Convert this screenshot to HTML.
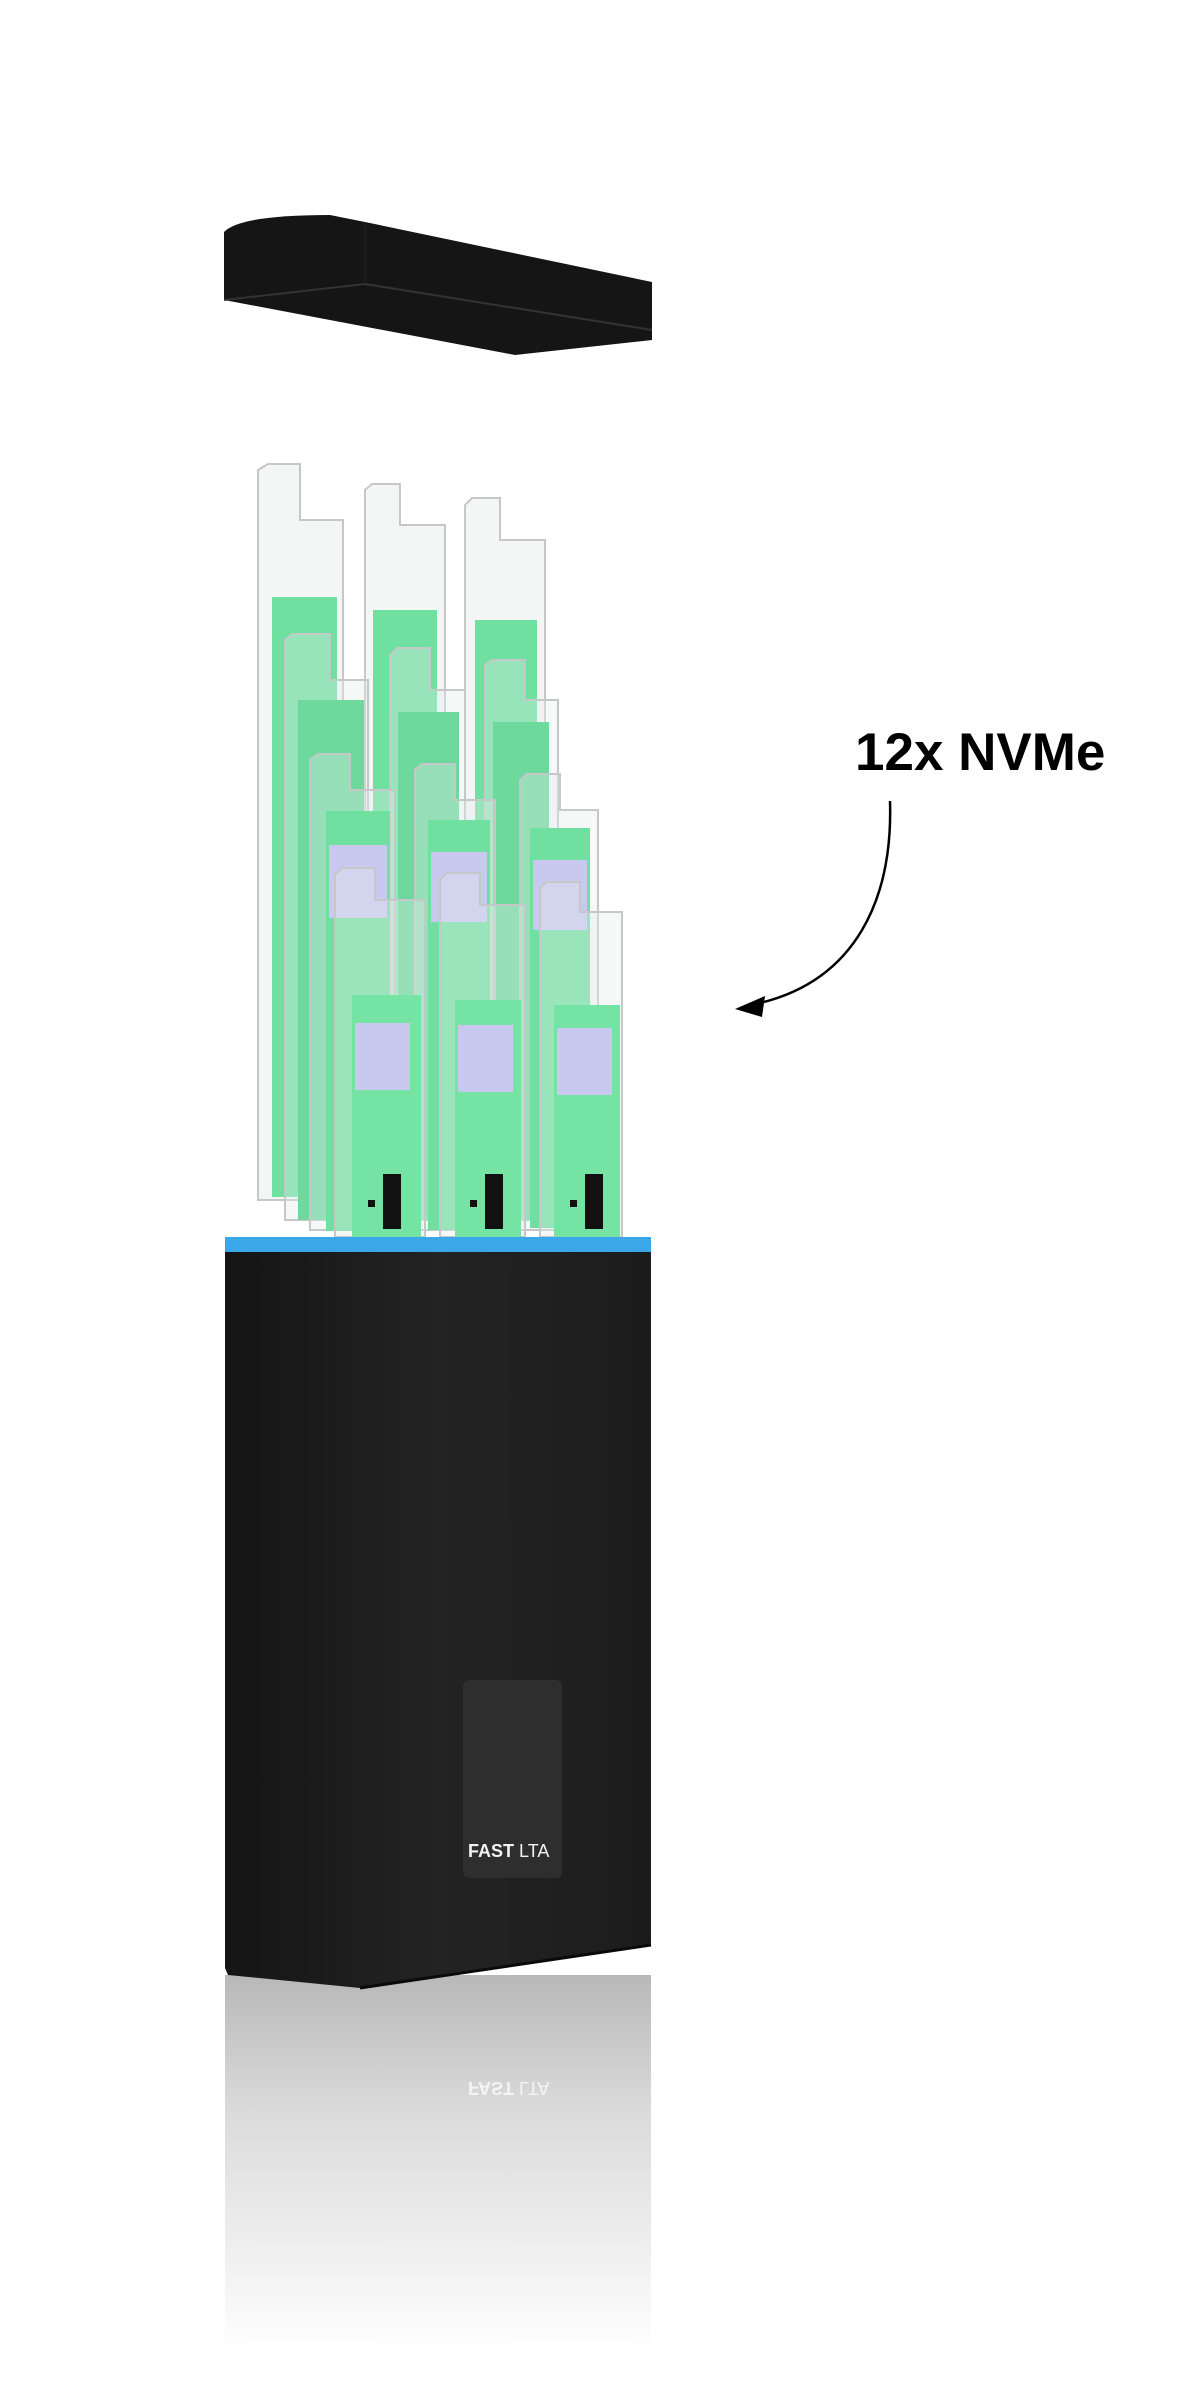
<!DOCTYPE html>
<html><head><meta charset="utf-8"><style>
html,body{margin:0;padding:0;background:#fff}
svg{display:block}
</style></head><body>
<svg width="1200" height="2401" viewBox="0 0 1200 2401" xmlns="http://www.w3.org/2000/svg">
<defs>
<linearGradient id="refl" x1="0" y1="0" x2="0" y2="1">
<stop offset="0" stop-color="#b8b8b8"/><stop offset="0.35" stop-color="#dadada"/><stop offset="1" stop-color="#ffffff"/>
</linearGradient>
<linearGradient id="boxg" x1="0" y1="0" x2="1" y2="0">
<stop offset="0" stop-color="#151515"/><stop offset="0.5" stop-color="#232323"/><stop offset="1" stop-color="#1c1c1c"/>
</linearGradient>
</defs>

<!-- lid -->
<path d="M224,232 Q240,215 330,215 L365,222 L652,282 L652,340 L515,355 L224,300 Z" fill="#151515"/>
<path d="M224,300 L365,284 L652,330" fill="none" stroke="#333" stroke-width="2"/>
<path d="M365,222 L365,284" stroke="#222" stroke-width="1"/>

<!-- drives -->
<g id="drives">
<g>
<path d="M258,530 L258,470 L268,464 L300,464 L300,520 L343,520 L343,1200 L258,1200 Z" fill="rgba(230,235,235,0.45)" stroke="#c4c8c8" stroke-width="2"/>
<rect x="272" y="597" width="65" height="600" fill="#6fe0a0"/>
<path d="M365,535 L365,490 L372,484 L400,484 L400,525 L445,525 L445,1200 L365,1200Z" fill="rgba(230,235,235,0.45)" stroke="#c4c8c8" stroke-width="2"/>
<rect x="373" y="610" width="64" height="590" fill="#6fe0a0"/>
<path d="M465,545 L465,505 L472,498 L500,498 L500,540 L545,540 L545,1200 L465,1200Z" fill="rgba(230,235,235,0.45)" stroke="#c4c8c8" stroke-width="2"/>
<rect x="475" y="620" width="62" height="580" fill="#6fe0a0"/>
</g>
<g>
<path d="M285,690 L285,640 L292,634 L330,634 L330,680 L368,680 L368,1220 L285,1220Z" fill="rgba(230,235,235,0.35)" stroke="#c4c8c8" stroke-width="2"/>
<rect x="298" y="700" width="66" height="520" fill="#6ed99d"/>
<path d="M390,700 L390,655 L397,648 L430,648 L430,690 L465,690 L465,1220 L390,1220Z" fill="rgba(230,235,235,0.35)" stroke="#c4c8c8" stroke-width="2"/>
<rect x="398" y="712" width="61" height="508" fill="#6ed99d"/>
<path d="M485,710 L485,665 L492,660 L525,660 L525,700 L558,700 L558,1220 L485,1220Z" fill="rgba(230,235,235,0.35)" stroke="#c4c8c8" stroke-width="2"/>
<rect x="493" y="722" width="56" height="498" fill="#6ed99d"/>
</g>
<g>
<path d="M310,800 L310,760 L318,754 L350,754 L350,790 L395,790 L395,1230 L310,1230Z" fill="rgba(230,235,235,0.35)" stroke="#c4c8c8" stroke-width="2"/>
<rect x="326" y="811" width="64" height="420" fill="#70e0a0"/>
<rect x="329" y="845" width="58" height="73" fill="#c9c9f0"/>
<path d="M415,810 L415,770 L422,764 L455,764 L455,800 L495,800 L495,1230 L415,1230Z" fill="rgba(230,235,235,0.35)" stroke="#c4c8c8" stroke-width="2"/>
<rect x="428" y="820" width="62" height="410" fill="#70e0a0"/>
<rect x="431" y="852" width="56" height="70" fill="#c9c9f0"/>
<path d="M520,820 L520,780 L527,774 L560,774 L560,810 L598,810 L598,1230 L520,1230Z" fill="rgba(230,235,235,0.35)" stroke="#c4c8c8" stroke-width="2"/>
<rect x="530" y="828" width="60" height="400" fill="#70e0a0"/>
<rect x="533" y="860" width="54" height="70" fill="#c9c9f0"/>
</g>
<g>
<path d="M335,910 L335,875 L342,868 L375,868 L375,900 L425,900 L425,1237 L335,1237Z" fill="rgba(230,235,235,0.35)" stroke="#c4c8c8" stroke-width="2"/>
<rect x="352" y="995" width="69" height="242" fill="#74e3a3"/>
<rect x="355" y="1023" width="55" height="67" fill="#c9c9f0"/>
<rect x="383" y="1174" width="18" height="55" fill="#111"/>
<rect x="368" y="1200" width="7" height="7" fill="#111"/>
<path d="M440,910 L440,880 L447,873 L480,873 L480,905 L525,905 L525,1237 L440,1237Z" fill="rgba(230,235,235,0.35)" stroke="#c4c8c8" stroke-width="2"/>
<rect x="455" y="1000" width="66" height="237" fill="#74e3a3"/>
<rect x="458" y="1025" width="55" height="67" fill="#c9c9f0"/>
<rect x="485" y="1174" width="18" height="55" fill="#111"/>
<rect x="470" y="1200" width="7" height="7" fill="#111"/>
<path d="M540,918 L540,888 L547,882 L580,882 L580,912 L622,912 L622,1237 L540,1237Z" fill="rgba(230,235,235,0.35)" stroke="#c4c8c8" stroke-width="2"/>
<rect x="554" y="1005" width="66" height="232" fill="#74e3a3"/>
<rect x="557" y="1028" width="55" height="67" fill="#c9c9f0"/>
<rect x="585" y="1174" width="18" height="55" fill="#111"/>
<rect x="570" y="1200" width="7" height="7" fill="#111"/>
</g>
</g>

<!-- reflection -->
<rect x="225" y="1975" width="426" height="380" fill="url(#refl)"/>
<text x="0" y="0" transform="translate(468,2082) scale(1,-1)" font-family="Liberation Sans, sans-serif" font-size="18" fill="#f4f4f4"><tspan font-weight="bold">FAST</tspan> LTA</text>

<!-- box -->
<rect x="225" y="1237" width="426" height="15" fill="#3aa8e8"/>
<path d="M225,1252 L651,1252 L651,1945 L360,1988 L228,1975 L225,1968 Z" fill="url(#boxg)"/>
<path d="M360,1988 L651,1945" stroke="#0a0a0a" stroke-width="3"/>
<rect x="463" y="1680" width="99" height="198" rx="6" fill="#2e2e2e"/>
<text x="468" y="1857" font-family="Liberation Sans, sans-serif" font-size="18" fill="#f2f2f2"><tspan font-weight="bold">FAST</tspan> LTA</text>

<!-- label + arrow -->
<text x="855" y="770" font-family="Liberation Sans, sans-serif" font-weight="bold" font-size="53" fill="#000">12x NVMe</text>
<path d="M890,801 C893,900 855,980 760,1003" fill="none" stroke="#000" stroke-width="2.5"/>
<path d="M735,1009 L765,996 L762,1017 Z" fill="#000"/>
</svg>
</body></html>
